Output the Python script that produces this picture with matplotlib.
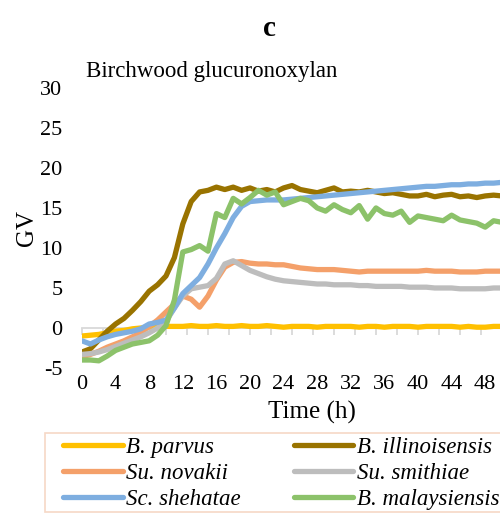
import numpy as np
import matplotlib
matplotlib.use("Agg")
import matplotlib.pyplot as plt
from matplotlib.patches import Rectangle

plt.rcParams['font.family'] = ['Liberation Serif', 'DejaVu Serif']
plt.rcParams['font.size'] = 16
plt.rcParams['axes.unicode_minus'] = False

# Time points (h)
hours = list(range(0, 51))

b_parvus = [-1.0, -0.9, -0.8, -0.6, -0.4, -0.3, -0.1, 0.0, 0.1, 0.2,
            0.2, 0.2, 0.2, 0.3, 0.2, 0.2, 0.3, 0.2, 0.2, 0.3,
            0.2, 0.2, 0.3, 0.2, 0.1, 0.2, 0.2, 0.2, 0.1, 0.2,
            0.2, 0.2, 0.2, 0.1, 0.2, 0.2, 0.1, 0.2, 0.2, 0.2,
            0.1, 0.2, 0.2, 0.2, 0.2, 0.1, 0.2, 0.1, 0.1, 0.2, 0.2]
b_illinoisensis = [-3.0, -2.6, -1.5, -0.4, 0.5, 1.2, 2.2, 3.3, 4.6, 5.4,
                   6.5, 8.8, 13.0, 15.8, 17.0, 17.2, 17.6, 17.3, 17.6, 17.2,
                   17.5, 17.1, 17.3, 17.0, 17.5, 17.8, 17.3, 17.1, 16.9, 17.2,
                   17.5, 17.0, 17.1, 17.0, 17.2, 17.0, 16.8, 16.9, 16.7, 16.5,
                   16.5, 16.7, 16.4, 16.6, 16.7, 16.4, 16.5, 16.3, 16.5, 16.6, 16.5]
su_novakii = [-3.6, -3.3, -2.9, -2.4, -2.0, -1.6, -1.1, -0.6, 0.2, 1.0,
              2.0, 3.0, 4.0, 3.6, 2.6, 4.0, 6.0, 7.6, 8.2, 8.3,
              8.1, 8.0, 8.0, 7.9, 7.9, 7.7, 7.5, 7.4, 7.3, 7.3,
              7.3, 7.2, 7.1, 7.0, 7.1, 7.1, 7.1, 7.1, 7.1, 7.1,
              7.1, 7.2, 7.1, 7.1, 7.1, 7.0, 7.0, 7.0, 7.1, 7.1, 7.1]
su_smithiae = [-3.3, -3.2, -3.0, -2.7, -2.3, -1.9, -1.5, -1.1, -0.6, 0.0,
               0.8, 2.5, 4.0, 4.9, 5.1, 5.3, 6.2, 8.0, 8.4, 7.8,
               7.2, 6.8, 6.4, 6.1, 5.9, 5.8, 5.7, 5.6, 5.5, 5.5,
               5.4, 5.4, 5.4, 5.3, 5.3, 5.2, 5.2, 5.2, 5.2, 5.1,
               5.1, 5.1, 5.0, 5.0, 5.0, 4.9, 4.9, 4.9, 4.9, 5.0, 5.0]
sc_shehatae = [-1.6, -2.0, -1.5, -1.1, -0.8, -0.6, -0.4, -0.1, 0.5, 0.7,
               1.0, 2.5, 4.3, 5.3, 6.3, 8.0, 10.0, 11.8, 13.8, 15.2,
               15.8, 15.9, 16.0, 16.0, 16.0, 16.1, 16.2, 16.3, 16.4, 16.5,
               16.6, 16.7, 16.8, 16.9, 17.0, 17.1, 17.2, 17.3, 17.4, 17.5,
               17.6, 17.7, 17.7, 17.8, 17.9, 17.9, 18.0, 18.0, 18.1, 18.1, 18.2]
b_malaysiensis = [-4.0, -4.0, -4.1, -3.5, -2.8, -2.4, -2.0, -1.8, -1.6, -0.9,
                  0.3, 3.5, 9.5, 9.8, 10.3, 9.6, 14.3, 13.8, 16.2, 15.5,
                  16.3, 17.2, 16.6, 17.0, 15.4, 15.8, 16.2, 15.9, 15.0, 14.6,
                  15.4, 14.8, 14.4, 15.3, 13.6, 15.0, 14.3, 14.1, 14.6, 13.2,
                  14.0, 13.8, 13.6, 13.4, 14.1, 13.5, 13.3, 13.1, 12.6, 13.4, 13.2]

series = [
    ("B. parvus", b_parvus, "#FFC000"),
    ("B. illinoisensis", b_illinoisensis, "#997300"),
    ("Su. novakii", su_novakii, "#F4A06A"),
    ("Su. smithiae", su_smithiae, "#BDBDBD"),
    ("Sc. shehatae", sc_shehatae, "#7EAEE0"),
    ("B. malaysiensis", b_malaysiensis, "#8CC26A"),
]

fig = plt.figure(figsize=(5.0, 5.14), dpi=100)
ax = fig.add_axes([0.164, 0.284, 0.924, 0.545])

lines = {}
for name, vals, col in series:
    ln, = ax.plot(hours, vals, color=col, lw=3.8, label=name, solid_capstyle='round')
    lines[name] = ln

ax.set_xlim(0, 55)
ax.set_ylim(-5, 30)
ax.set_yticks(np.arange(-5, 31, 5))
ax.tick_params(axis='y', length=0, pad=14)

# horizontal axis crossing at zero, ticks every 2.5 h
for s in ['left', 'right', 'top']:
    ax.spines[s].set_visible(False)
ax.spines['bottom'].set_position(('data', 0))
ax.spines['bottom'].set_color('#D9D9D9')
ax.spines['bottom'].set_linewidth(1.3)
ax.spines['bottom'].set_zorder(0)
ax.set_xticks(np.arange(0, 55.1, 2.5))
ax.tick_params(axis='x', length=5, width=1.3, color='#D9D9D9', labelbottom=False)

sec = ax.secondary_xaxis('bottom')
sec.set_xticks(np.arange(0, 49, 4))
sec.tick_params(length=0, pad=5)
sec.spines['bottom'].set_visible(False)

ax.set_ylabel("GV", fontsize=18, labelpad=2)
fig.text(312 / 500, 1 - 412 / 514, "Time (h)", ha='center', va='center', fontsize=18)
fig.text(86 / 500, 1 - 71 / 514, "Birchwood glucuronoxylan", ha='left', va='center',
         fontsize=16.5)
fig.text(269 / 500, 1 - 28 / 514, "c", ha='center', va='center', fontweight='bold', fontsize=21)

# legend frame runs past the right edge of the picture
fig.patches.append(Rectangle((45 / 500, 1 - 512 / 514), 480 / 500, 79 / 514,
                             transform=fig.transFigure, facecolor='white',
                             edgecolor='#F6D8C6', lw=1.2, zorder=1))

# legend is filled row by row in the reference
order = ["B. parvus", "Su. novakii", "Sc. shehatae",
         "B. illinoisensis", "Su. smithiae", "B. malaysiensis"]
leg = fig.legend([lines[n] for n in order], order,
                 loc='upper left', bbox_to_anchor=(61 / 500, 1 - 435 / 514),
                 ncol=2, frameon=False, borderaxespad=0,
                 handlelength=2.6, handletextpad=0.15, columnspacing=2.3,
                 labelspacing=0.2, borderpad=0.1,
                 prop={'style': 'italic', 'size': 16.5})
leg.set_zorder(2)

fig.savefig("out.png", dpi=100)
